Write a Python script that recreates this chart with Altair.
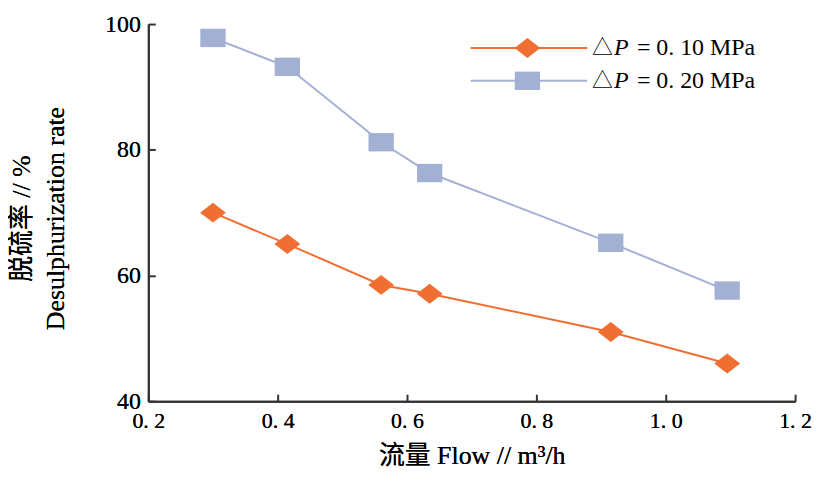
import altair as alt
import pandas as pd

# ---- data ----
flow = [0.30, 0.415, 0.56, 0.635, 0.915, 1.095]
rate_p010 = [70.0, 65.0, 58.5, 57.1, 51.0, 46.0]
rate_p020 = [97.8, 93.2, 81.2, 76.3, 65.2, 57.6]
series = ["0. 10", "0. 20"]
x_ticks = [0.2, 0.4, 0.6, 0.8, 1.0, 1.2]
y_ticks = [40, 60, 80, 100]

colors = ["#F06E32", "#A2B0D4"]
shapes = ["M-1.3,0L0,-1L1.3,0L0,1Z", "M-1.38,-1L1.38,-1L1.38,1L-1.38,1Z"]
sizes = [400, 340]

rows = []
for s, vals in zip(series, [rate_p010, rate_p020]):
    for f, v in zip(flow, vals):
        rows.append({"flow": f, "rate": v, "series": s})
df = pd.DataFrame(rows)

FONT = "Liberation Serif, Noto Sans CJK SC"
W, H = 650, 379
AX = "#333333"

xscale = alt.Scale(domain=[0.2, 1.2], nice=False, zero=False)
yscale = alt.Scale(domain=[40, 100], nice=False, zero=False)
cscale = alt.Scale(domain=series, range=colors)
sscale = alt.Scale(domain=series, range=shapes)
zscale = alt.Scale(domain=series, range=sizes)

x_main = alt.X("flow:Q", scale=xscale, axis=alt.Axis(
    orient="bottom", values=x_ticks, ticks=False, grid=False, labelFlush=False,
    domainColor=AX, domainWidth=2,
    labelExpr="replace(format(datum.value, '.1f'), '.', '. ')",
    labelFont=FONT, labelFontSize=22, labelColor="black", labelPadding=9,
    title="流量 Flow // m³/h", titleFont=FONT, titleFontSize=26,
    titleFontWeight="normal", titleColor="black", titlePadding=12))
y_main = alt.Y("rate:Q", scale=yscale, axis=alt.Axis(
    orient="left", values=y_ticks, ticks=False, grid=False, labelFlush=False,
    domainColor=AX, domainWidth=2, format="d",
    labelFont=FONT, labelFontSize=24, labelColor="black", labelPadding=8,
    title=["脱硫率 // %", "Desulphurization rate"], titleFont=FONT,
    titleFontSize=26, titleFontWeight="normal", titleColor="black",
    titleLineHeight=34, titleX=-114, titleY=195))

base = alt.Chart(df).encode(x=x_main, y=y_main)
lines = base.mark_line(strokeWidth=2).encode(
    color=alt.Color("series:N", scale=cscale, legend=None))
points = base.mark_point(filled=True, opacity=1, strokeWidth=0).encode(
    color=alt.Color("series:N", scale=cscale, legend=None),
    shape=alt.Shape("series:N", scale=sscale, legend=None),
    size=alt.Size("series:N", scale=zscale, legend=None))

# inward ticks via extra axes
ticks_layer = alt.Chart(df).mark_point(opacity=0).encode(
    x=alt.X("flow:Q", scale=xscale, axis=alt.Axis(
        orient="top", offset=-H, values=x_ticks, labels=False, domain=False,
        tickSize=7, tickColor=AX, tickWidth=2, grid=False, title=None)),
    y=alt.Y("rate:Q", scale=yscale, axis=alt.Axis(
        orient="right", offset=-W, values=y_ticks, labels=False, domain=False,
        tickSize=7, tickColor=AX, tickWidth=2, grid=False, title=None)),
)

# manual legend
one = pd.DataFrame({"k": [0]})
legend_layers = []
for i, (s, c, sh, sz) in enumerate(zip(series, colors, shapes, sizes)):
    yy = 24 + 33 * i
    legend_layers += [
        alt.Chart(one).mark_rule(color=c, strokeWidth=2).encode(
            x=alt.value(324), x2=alt.value(441), y=alt.value(yy)),
        alt.Chart(one).mark_point(filled=True, opacity=1, color=c, shape=sh,
                                  size=sz, strokeWidth=0).encode(
            x=alt.value(381), y=alt.value(yy)),
        alt.Chart(one).mark_text(align="left", baseline="middle", font=FONT,
                                 fontSize=21, color="black").encode(
            x=alt.value(446), y=alt.value(yy), text=alt.value("△")),
        alt.Chart(one).mark_text(align="left", baseline="middle", font=FONT,
                                 fontSize=24, fontStyle="italic", color="black").encode(
            x=alt.value(468), y=alt.value(yy), text=alt.value("P")),
        alt.Chart(one).mark_text(align="left", baseline="middle", font=FONT,
                                 fontSize=24, color="black").encode(
            x=alt.value(491), y=alt.value(yy), text=alt.value("= " + s + " MPa")),
    ]

chart = alt.layer(lines, points, ticks_layer, *legend_layers).resolve_axis(
    x="independent", y="independent"
).properties(
    width=W, height=H,
    autosize=alt.AutoSizeParams(type="none"),
    padding={"left": 141, "top": 15, "right": 18, "bottom": 70},
).configure_view(stroke=None)

chart.save("out.html", embed_options={"renderer": "svg", "actions": False})
